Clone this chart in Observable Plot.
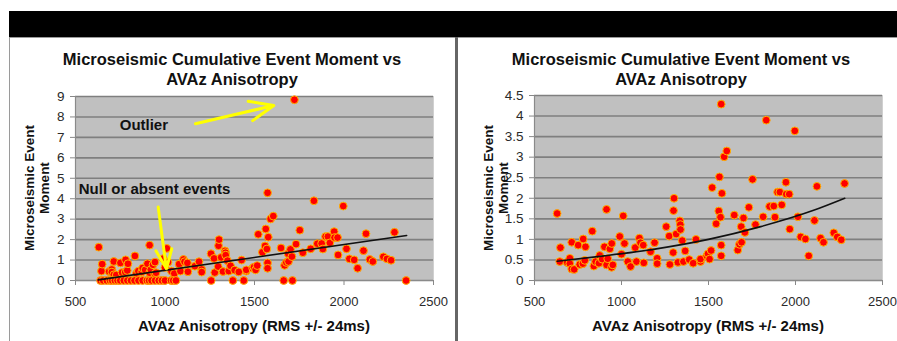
<!DOCTYPE html>
<html><head><meta charset="utf-8">
<script src="https://cdn.jsdelivr.net/npm/d3@7"></script>
<script src="https://cdn.jsdelivr.net/npm/@observablehq/plot@0.6"></script>
<style>
body{margin:0;background:#fff;font-family:"Liberation Sans",Arial,sans-serif;}
#wrap{position:relative;width:897px;height:341px;overflow:hidden;background:#fff;}
.abs{position:absolute;}
.title{font-weight:bold;font-size:16.5px;text-align:center;line-height:20px;color:#111;white-space:nowrap;}
.xt{font-weight:bold;font-size:15px;text-align:center;color:#111;white-space:nowrap;line-height:18px;}
.yt{font-weight:bold;font-size:13.5px;text-align:center;line-height:15px;color:#111;transform:rotate(-90deg);white-space:nowrap;}
svg{position:absolute;top:0;overflow:visible;}
</style></head>
<body>
<div id="wrap">
  <div class="abs" style="left:9px;top:11px;width:888px;height:26px;background:#000;"></div>
  <div class="abs" style="left:9px;top:37px;width:446px;height:310px;border-left:1px solid #9a9a9a;border-top:1px solid #9a9a9a;"></div>
  <div class="abs" style="left:458px;top:37px;width:439px;height:310px;border-top:1px solid #9a9a9a;"></div>
  <div class="abs" style="left:455px;top:37px;width:3px;height:304px;background:#666;"></div>
  <div id="p1" class="abs" style="left:0;top:0;width:450px;height:341px;"></div>
  <div id="p2" class="abs" style="left:450px;top:0;width:447px;height:341px;"></div>
  <div class="abs title" style="left:9px;top:49px;width:446px;">Microseismic Cumulative Event Moment vs<br>AVAz Anisotropy</div>
  <div class="abs title" style="left:460px;top:49px;width:442px;">Microseismic Cumulative Event Moment vs<br>AVAz Anisotropy</div>
  <div class="abs xt" style="left:54px;top:317px;width:400px;">AVAz Anisotropy (RMS +/- 24ms)</div>
  <div class="abs xt" style="left:508px;top:317px;width:400px;">AVAz Anisotropy (RMS +/- 24ms)</div>
  <div class="abs yt" style="left:-43px;top:173px;width:160px;height:30px;">Microseismic Event<br>Moment</div>
  <div class="abs yt" style="left:416px;top:173px;width:160px;height:30px;">Microseismic Event<br>Moment</div>
</div>
<script>
// AVAz anisotropy (x) and cumulative event moment (y) for events with non-zero moment
const baseX = [630,645,649,688,703,703,714,714,728,751,760,778,780,789,793,832,841,851,870,875,889,902,914,914,921,933,943,944,950,990,1000,1010,1017,1036,1052,1079,1086,1103,1109,1125,1128,1167,1190,1205,1205,1257,1274,1278,1297,1299,1302,1314,1324,1335,1338,1339,1349,1356,1366,1389,1412,1428,1454,1454,1490,1497,1506,1515,1521,1544,1559,1563,1569,1573,1573,1573,1577,1590,1605,1648,1668,1678,1690,1688,1701,1709,1732,1753,1770,1814,1832,1851,1875,1882,1897,1910,1921,1945,1947,1964,1967,1996,2014,2030,2057,2076,2109,2123,2144,2161,2220,2240,2263,2282];
const baseY = [1.63,0.46,0.80,0.44,0.54,0.41,0.28,0.93,0.27,0.86,0.39,0.41,1.01,0.49,0.82,1.20,0.35,0.46,0.42,0.61,0.52,0.82,1.73,0.38,0.53,0.77,0.32,0.90,0.38,1.07,0.64,1.57,0.90,0.46,0.34,0.80,0.46,1.03,0.92,0.86,0.43,0.70,0.92,0.54,0.41,1.31,1.08,0.39,0.68,1.70,2.00,1.13,0.44,1.45,1.36,1.24,0.97,0.46,0.72,0.51,0.42,1.00,0.46,0.52,0.60,0.65,0.52,0.73,2.26,1.38,1.69,2.52,1.54,4.29,0.86,0.60,2.12,3.01,3.15,1.59,0.74,0.88,0.93,1.31,1.52,1.17,1.78,2.46,1.36,1.55,3.90,1.80,1.81,1.54,2.15,2.15,1.84,2.39,2.10,2.10,1.25,3.64,1.55,1.06,1.01,0.60,1.46,2.29,1.03,0.93,1.16,1.06,0.99,2.36];
// null or absent events (moment = 0), shown only in the left chart
const nullX = [640,655,675,693,705,720,735,750,770,790,810,830,852,875,899,911,925,945,965,983,1000,1034,1046,1061,1258,1379,1440,1663,1712,2347];
// outlier, shown only in the left chart
const outlierX = [1723];
const outlierY = [8.84];

const xTicks = [500,1000,1500,2000,2500];
const leftYTicks = [0,1,2,3,4,5,6,7,8,9];
const rightYTicks = [0,0.5,1,1.5,2,2.5,3,3.5,4,4.5];

// trend lines
const trendLeftX = [627, 2350];
const trendLeftY = [0.03, 2.2];
const trendRightX = [630, 900, 1200, 1500, 1800, 2100, 2283];
const trendRightY = [0.47, 0.6, 0.77, 1.0, 1.31, 1.7, 2.0];

// annotations (left chart), in data units
const annoText = ["Outlier", "Null or absent events"];
const annoTextX = [747, 518];
const annoTextY = [7.62, 4.45];
const arrowX1 = [1170, 962];
const arrowY1 = [7.67, 3.59];
const arrowX2 = [1608, 1008];
const arrowY2 = [8.56, 0.57];

const base = baseX.map((x, i) => ({x, y: baseY[i]}));
const leftData = base
  .concat(nullX.map(x => ({x, y: 0})))
  .concat(outlierX.map((x, i) => ({x, y: outlierY[i]})));
const trendL = trendLeftX.map((x, i) => ({x, y: trendLeftY[i]}));
const trendR = trendRightX.map((x, i) => ({x, y: trendRightY[i]}));
const annoT = annoText.map((t, i) => ({t, x: annoTextX[i], y: annoTextY[i]}));
const annoA = arrowX1.map((x1, i) => ({x1, y1: arrowY1[i], x2: arrowX2[i], y2: arrowY2[i]}));

const font = "Liberation Sans, Arial, sans-serif";
function chart(opts) {
  return Plot.plot({
    width: opts.width, height: 341,
    marginLeft: opts.ml, marginRight: opts.mr, marginTop: opts.mt, marginBottom: 61,
    style: {background: "transparent", fontFamily: font, fontSize: "13px", color: "#2a2a2a", overflow: "visible"},
    x: {domain: [500, 2500]},
    y: {domain: opts.ydomain},
    marks: [
      Plot.frame({fill: "#c0c0c0", stroke: "#d0d0d0"}),
      Plot.gridY(opts.yticks, {stroke: "#7f7f7f", strokeOpacity: 1, strokeWidth: 1.6}),
      Plot.ruleY([0], {stroke: "#8a8a8a", strokeWidth: 1.2}),
      Plot.ruleX([500], {stroke: "#8a8a8a", strokeWidth: 1.2}),
      Plot.axisX(xTicks, {tickSize: 5, tickPadding: 11, stroke: "#888", fill: "#2a2a2a", fontSize: 13, label: null, tickFormat: d => String(d)}),
      Plot.axisY(opts.yticks, {tickSize: 5, tickPadding: 6, stroke: "#888", fill: "#2a2a2a", fontSize: 13.5, label: null, tickFormat: d => String(d)}),
      Plot.dot(opts.data, {x: "x", y: "y", r: 3.9, fill: "#ff0000", stroke: "#ffb300", strokeWidth: 1}),
      Plot.line(opts.trend, {x: "x", y: "y", stroke: "#111", strokeWidth: 1.6, curve: "monotone-x"}),
      ...(opts.extra || [])
    ]
  });
}

const left = chart({
  width: 450, ml: 75, mr: 17, mt: 96, ydomain: [0, 9], yticks: leftYTicks, data: leftData, trend: trendL,
  extra: [
    Plot.arrow(annoA, {x1: "x1", y1: "y1", x2: "x2", y2: "y2", stroke: "#ffff00", strokeWidth: 3, headLength: 13, headAngle: 45}),
    Plot.text(annoT, {x: "x", y: "y", text: "t", textAnchor: "start", fontSize: 15, fontWeight: "bold", fill: "#111"})
  ]
});
const right = chart({
  width: 447, ml: 84, mr: 15, mt: 95, ydomain: [0, 4.5], yticks: rightYTicks, data: base, trend: trendR
});
document.getElementById("p1").appendChild(left);
document.getElementById("p2").appendChild(right);
</script>
</body></html>
